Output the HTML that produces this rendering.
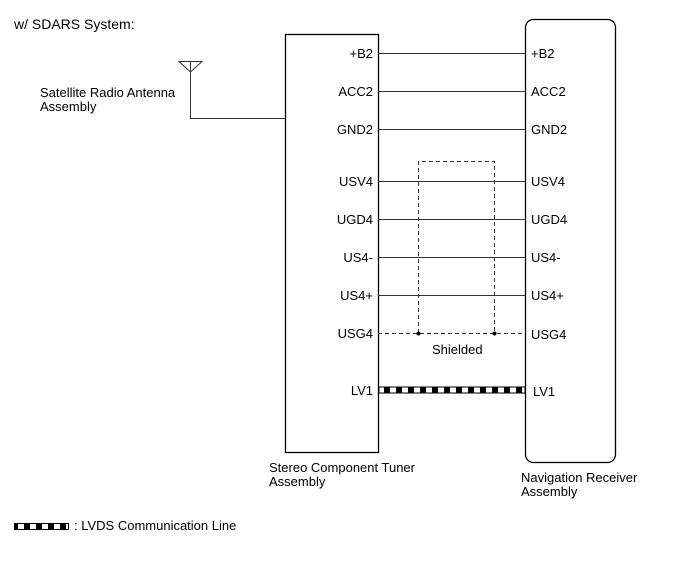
<!DOCTYPE html>
<html><head><style>
body{margin:0;background:#fff;width:688px;height:560px;overflow:hidden}
text{font-family:"Liberation Sans",Arial,sans-serif;font-size:13px;fill:#000}
</style></head><body>
<svg width="688" height="560" viewBox="0 0 688 560" xmlns="http://www.w3.org/2000/svg">
<defs>
<pattern id="lv" x="0" y="0" width="12" height="6" patternUnits="userSpaceOnUse">
<rect x="0" y="0" width="6" height="6" fill="#000"/><rect x="6" y="0" width="6" height="6" fill="#fff"/>
</pattern>
</defs>
<text x="14" y="29" style="font-size:14px">w/ SDARS System:</text>
<rect x="285.5" y="34.5" width="93" height="418" fill="none" stroke="#000" stroke-width="1.3"/>
<rect x="525.5" y="19.5" width="90" height="443" rx="8" fill="none" stroke="#000" stroke-width="1.3"/>
<g stroke="#333" stroke-width="1">
<polygon points="179,61.5 202,61.5 190.5,72" fill="none"/>
<polyline points="190.5,61 190.5,118.5 285,118.5" fill="none"/>
<line x1="378" y1="53.5" x2="525" y2="53.5"/>
<line x1="378" y1="91.5" x2="525" y2="91.5"/>
<line x1="378" y1="129.5" x2="525" y2="129.5"/>
<line x1="378" y1="181.5" x2="525" y2="181.5"/>
<line x1="378" y1="219.5" x2="525" y2="219.5"/>
<line x1="378" y1="257.5" x2="525" y2="257.5"/>
<line x1="378" y1="295.5" x2="525" y2="295.5"/>
<g stroke-dasharray="4,3">
<line x1="378" y1="333.5" x2="525" y2="333.5"/>
<polyline points="418.5,333 418.5,161.5 494.5,161.5 494.5,333" fill="none"/>
</g>
</g>
<circle cx="418.5" cy="333.5" r="2" fill="#000"/>
<circle cx="494.5" cy="333.5" r="2" fill="#000"/>
<rect x="379" y="387" width="146" height="6" fill="url(#lv)" stroke="#000" stroke-width="1"/>
<g text-anchor="end">
<text x="373" y="58">+B2</text><text x="373" y="96">ACC2</text><text x="373" y="134">GND2</text>
<text x="373" y="186">USV4</text><text x="373" y="224">UGD4</text><text x="373" y="262">US4-</text>
<text x="373" y="300">US4+</text><text x="373" y="338">USG4</text><text x="373" y="395">LV1</text>
</g>
<text x="531" y="58">+B2</text><text x="531" y="96">ACC2</text><text x="531" y="134">GND2</text>
<text x="531" y="186">USV4</text><text x="531" y="224">UGD4</text><text x="531" y="262">US4-</text>
<text x="531" y="300">US4+</text><text x="531" y="339">USG4</text><text x="533" y="396">LV1</text>
<text x="432" y="354">Shielded</text>
<text x="40" y="97">Satellite Radio Antenna</text><text x="40" y="111">Assembly</text>
<text x="269" y="472">Stereo Component Tuner</text><text x="269" y="486">Assembly</text>
<text x="521" y="482">Navigation Receiver</text><text x="521" y="496">Assembly</text>
<rect x="14.5" y="523.5" width="54" height="6" fill="url(#lv)" stroke="#000" stroke-width="1"/>
<text x="74" y="530">: LVDS Communication Line</text>
</svg>
</body></html>
